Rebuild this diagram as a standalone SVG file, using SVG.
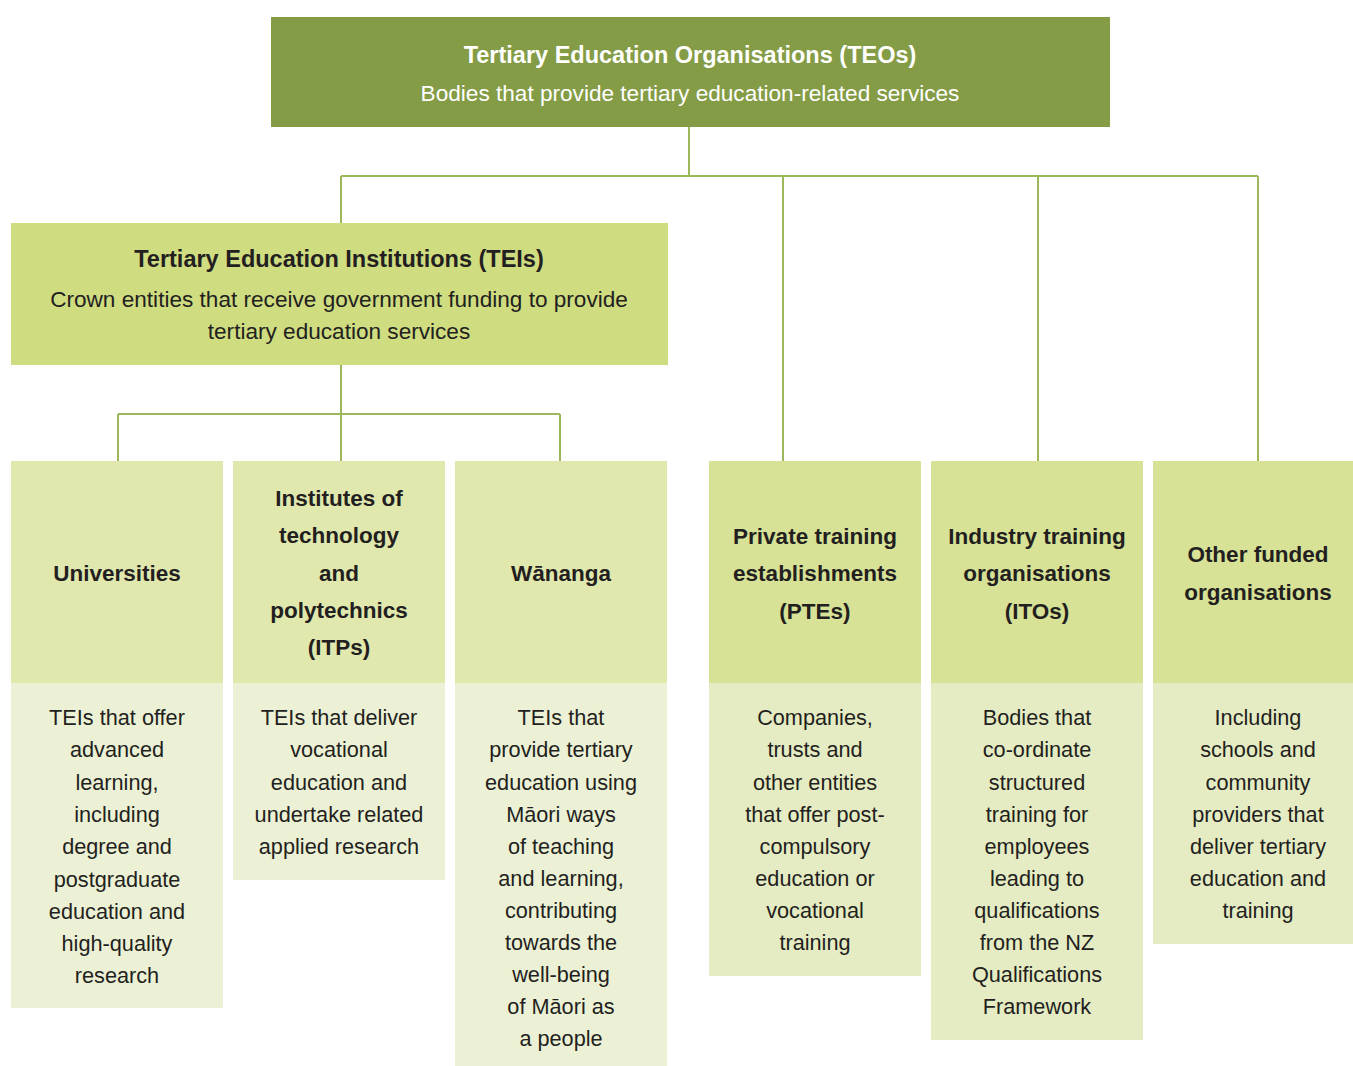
<svg xmlns="http://www.w3.org/2000/svg" width="1353" height="1066" viewBox="0 0 1353 1066">
  <style>
    text { font-family: "Liberation Sans", Arial, sans-serif; text-anchor: middle; fill: #231f20; }
    .root { fill: #849c45; }
    .tei { fill: #cfdc80; }
    .hd-tei { fill: #e0e8ae; }
    .hd-oth { fill: #d7e296; }
    .bd-tei { fill: #ecf1d6; }
    .bd-oth { fill: #e5ecc3; }
    .ttl { font-size: 23.5px; font-weight: bold; }
    .sub { font-size: 22.6px; }
    .hd { font-size: 22.5px; font-weight: bold; }
    .bd { font-size: 21.7px; }
    .wt { fill: #ffffff; }
    .link { fill: none; stroke: #9cb85a; stroke-width: 2; }
  </style>

  <!-- connectors -->
  <g id="connectors">
    <path class="link" d="M689 127 V176 M341 176 H1258 M341 176 V223 M783 176 V461 M1038 176 V461 M1258 176 V461"/>
    <path class="link" d="M341 365 V461 M118 414 H560 M118 414 V461 M560 414 V461"/>
  </g>

  <!-- top level -->
  <g id="teo">
    <rect class="root" x="271" y="17" width="839" height="110"/>
    <text class="ttl wt" x="690" y="63">Tertiary Education Organisations (TEOs)</text>
    <text class="sub wt" x="690" y="101">Bodies that provide tertiary education-related services</text>
  </g>

  <g id="tei">
    <rect class="tei" x="11" y="223" width="657" height="142"/>
    <text class="ttl" x="339" y="267">Tertiary Education Institutions (TEIs)</text>
    <text class="sub" x="339" y="307">Crown entities that receive government funding to provide</text>
    <text class="sub" x="339" y="339">tertiary education services</text>
  </g>

  <g id="universities">
    <rect class="hd-tei" x="11" y="461" width="212" height="222"/>
    <rect class="bd-tei" x="11" y="683" width="212" height="325"/>
    <text class="hd" x="117" y="581">Universities</text>
    <text class="bd" x="117" y="725">TEIs that offer</text>
    <text class="bd" x="117" y="757">advanced</text>
    <text class="bd" x="117" y="790">learning,</text>
    <text class="bd" x="117" y="822">including</text>
    <text class="bd" x="117" y="854">degree and</text>
    <text class="bd" x="117" y="887">postgraduate</text>
    <text class="bd" x="117" y="919">education and</text>
    <text class="bd" x="117" y="951">high-quality</text>
    <text class="bd" x="117" y="983">research</text>
  </g>

  <g id="itps">
    <rect class="hd-tei" x="233" y="461" width="212" height="222"/>
    <rect class="bd-tei" x="233" y="683" width="212" height="197"/>
    <text class="hd" x="339" y="506">Institutes of</text>
    <text class="hd" x="339" y="543">technology</text>
    <text class="hd" x="339" y="581">and</text>
    <text class="hd" x="339" y="618">polytechnics</text>
    <text class="hd" x="339" y="655">(ITPs)</text>
    <text class="bd" x="339" y="725">TEIs that deliver</text>
    <text class="bd" x="339" y="757">vocational</text>
    <text class="bd" x="339" y="790">education and</text>
    <text class="bd" x="339" y="822">undertake related</text>
    <text class="bd" x="339" y="854">applied research</text>
  </g>

  <g id="wananga">
    <rect class="hd-tei" x="455" y="461" width="212" height="222"/>
    <rect class="bd-tei" x="455" y="683" width="212" height="383"/>
    <text class="hd" x="561" y="581">Wānanga</text>
    <text class="bd" x="561" y="725">TEIs that</text>
    <text class="bd" x="561" y="757">provide tertiary</text>
    <text class="bd" x="561" y="790">education using</text>
    <text class="bd" x="561" y="822">Māori ways</text>
    <text class="bd" x="561" y="854">of teaching</text>
    <text class="bd" x="561" y="886">and learning,</text>
    <text class="bd" x="561" y="918">contributing</text>
    <text class="bd" x="561" y="950">towards the</text>
    <text class="bd" x="561" y="982">well-being</text>
    <text class="bd" x="561" y="1014">of Māori as</text>
    <text class="bd" x="561" y="1046">a people</text>
  </g>

  <g id="ptes">
    <rect class="hd-oth" x="709" y="461" width="212" height="222"/>
    <rect class="bd-oth" x="709" y="683" width="212" height="293"/>
    <text class="hd" x="815" y="544">Private training</text>
    <text class="hd" x="815" y="581">establishments</text>
    <text class="hd" x="815" y="619">(PTEs)</text>
    <text class="bd" x="815" y="725">Companies,</text>
    <text class="bd" x="815" y="757">trusts and</text>
    <text class="bd" x="815" y="790">other entities</text>
    <text class="bd" x="815" y="822">that offer post-</text>
    <text class="bd" x="815" y="854">compulsory</text>
    <text class="bd" x="815" y="886">education or</text>
    <text class="bd" x="815" y="918">vocational</text>
    <text class="bd" x="815" y="950">training</text>
  </g>

  <g id="itos">
    <rect class="hd-oth" x="931" y="461" width="212" height="222"/>
    <rect class="bd-oth" x="931" y="683" width="212" height="357"/>
    <text class="hd" x="1037" y="544">Industry training</text>
    <text class="hd" x="1037" y="581">organisations</text>
    <text class="hd" x="1037" y="619">(ITOs)</text>
    <text class="bd" x="1037" y="725">Bodies that</text>
    <text class="bd" x="1037" y="757">co-ordinate</text>
    <text class="bd" x="1037" y="790">structured</text>
    <text class="bd" x="1037" y="822">training for</text>
    <text class="bd" x="1037" y="854">employees</text>
    <text class="bd" x="1037" y="886">leading to</text>
    <text class="bd" x="1037" y="918">qualifications</text>
    <text class="bd" x="1037" y="950">from the NZ</text>
    <text class="bd" x="1037" y="982">Qualifications</text>
    <text class="bd" x="1037" y="1014">Framework</text>
  </g>

  <g id="other">
    <rect class="hd-oth" x="1153" y="461" width="212" height="222"/>
    <rect class="bd-oth" x="1153" y="683" width="212" height="261"/>
    <text class="hd" x="1258" y="562">Other funded</text>
    <text class="hd" x="1258" y="600">organisations</text>
    <text class="bd" x="1258" y="725">Including</text>
    <text class="bd" x="1258" y="757">schools and</text>
    <text class="bd" x="1258" y="790">community</text>
    <text class="bd" x="1258" y="822">providers that</text>
    <text class="bd" x="1258" y="854">deliver tertiary</text>
    <text class="bd" x="1258" y="886">education and</text>
    <text class="bd" x="1258" y="918">training</text>
  </g>
</svg>
